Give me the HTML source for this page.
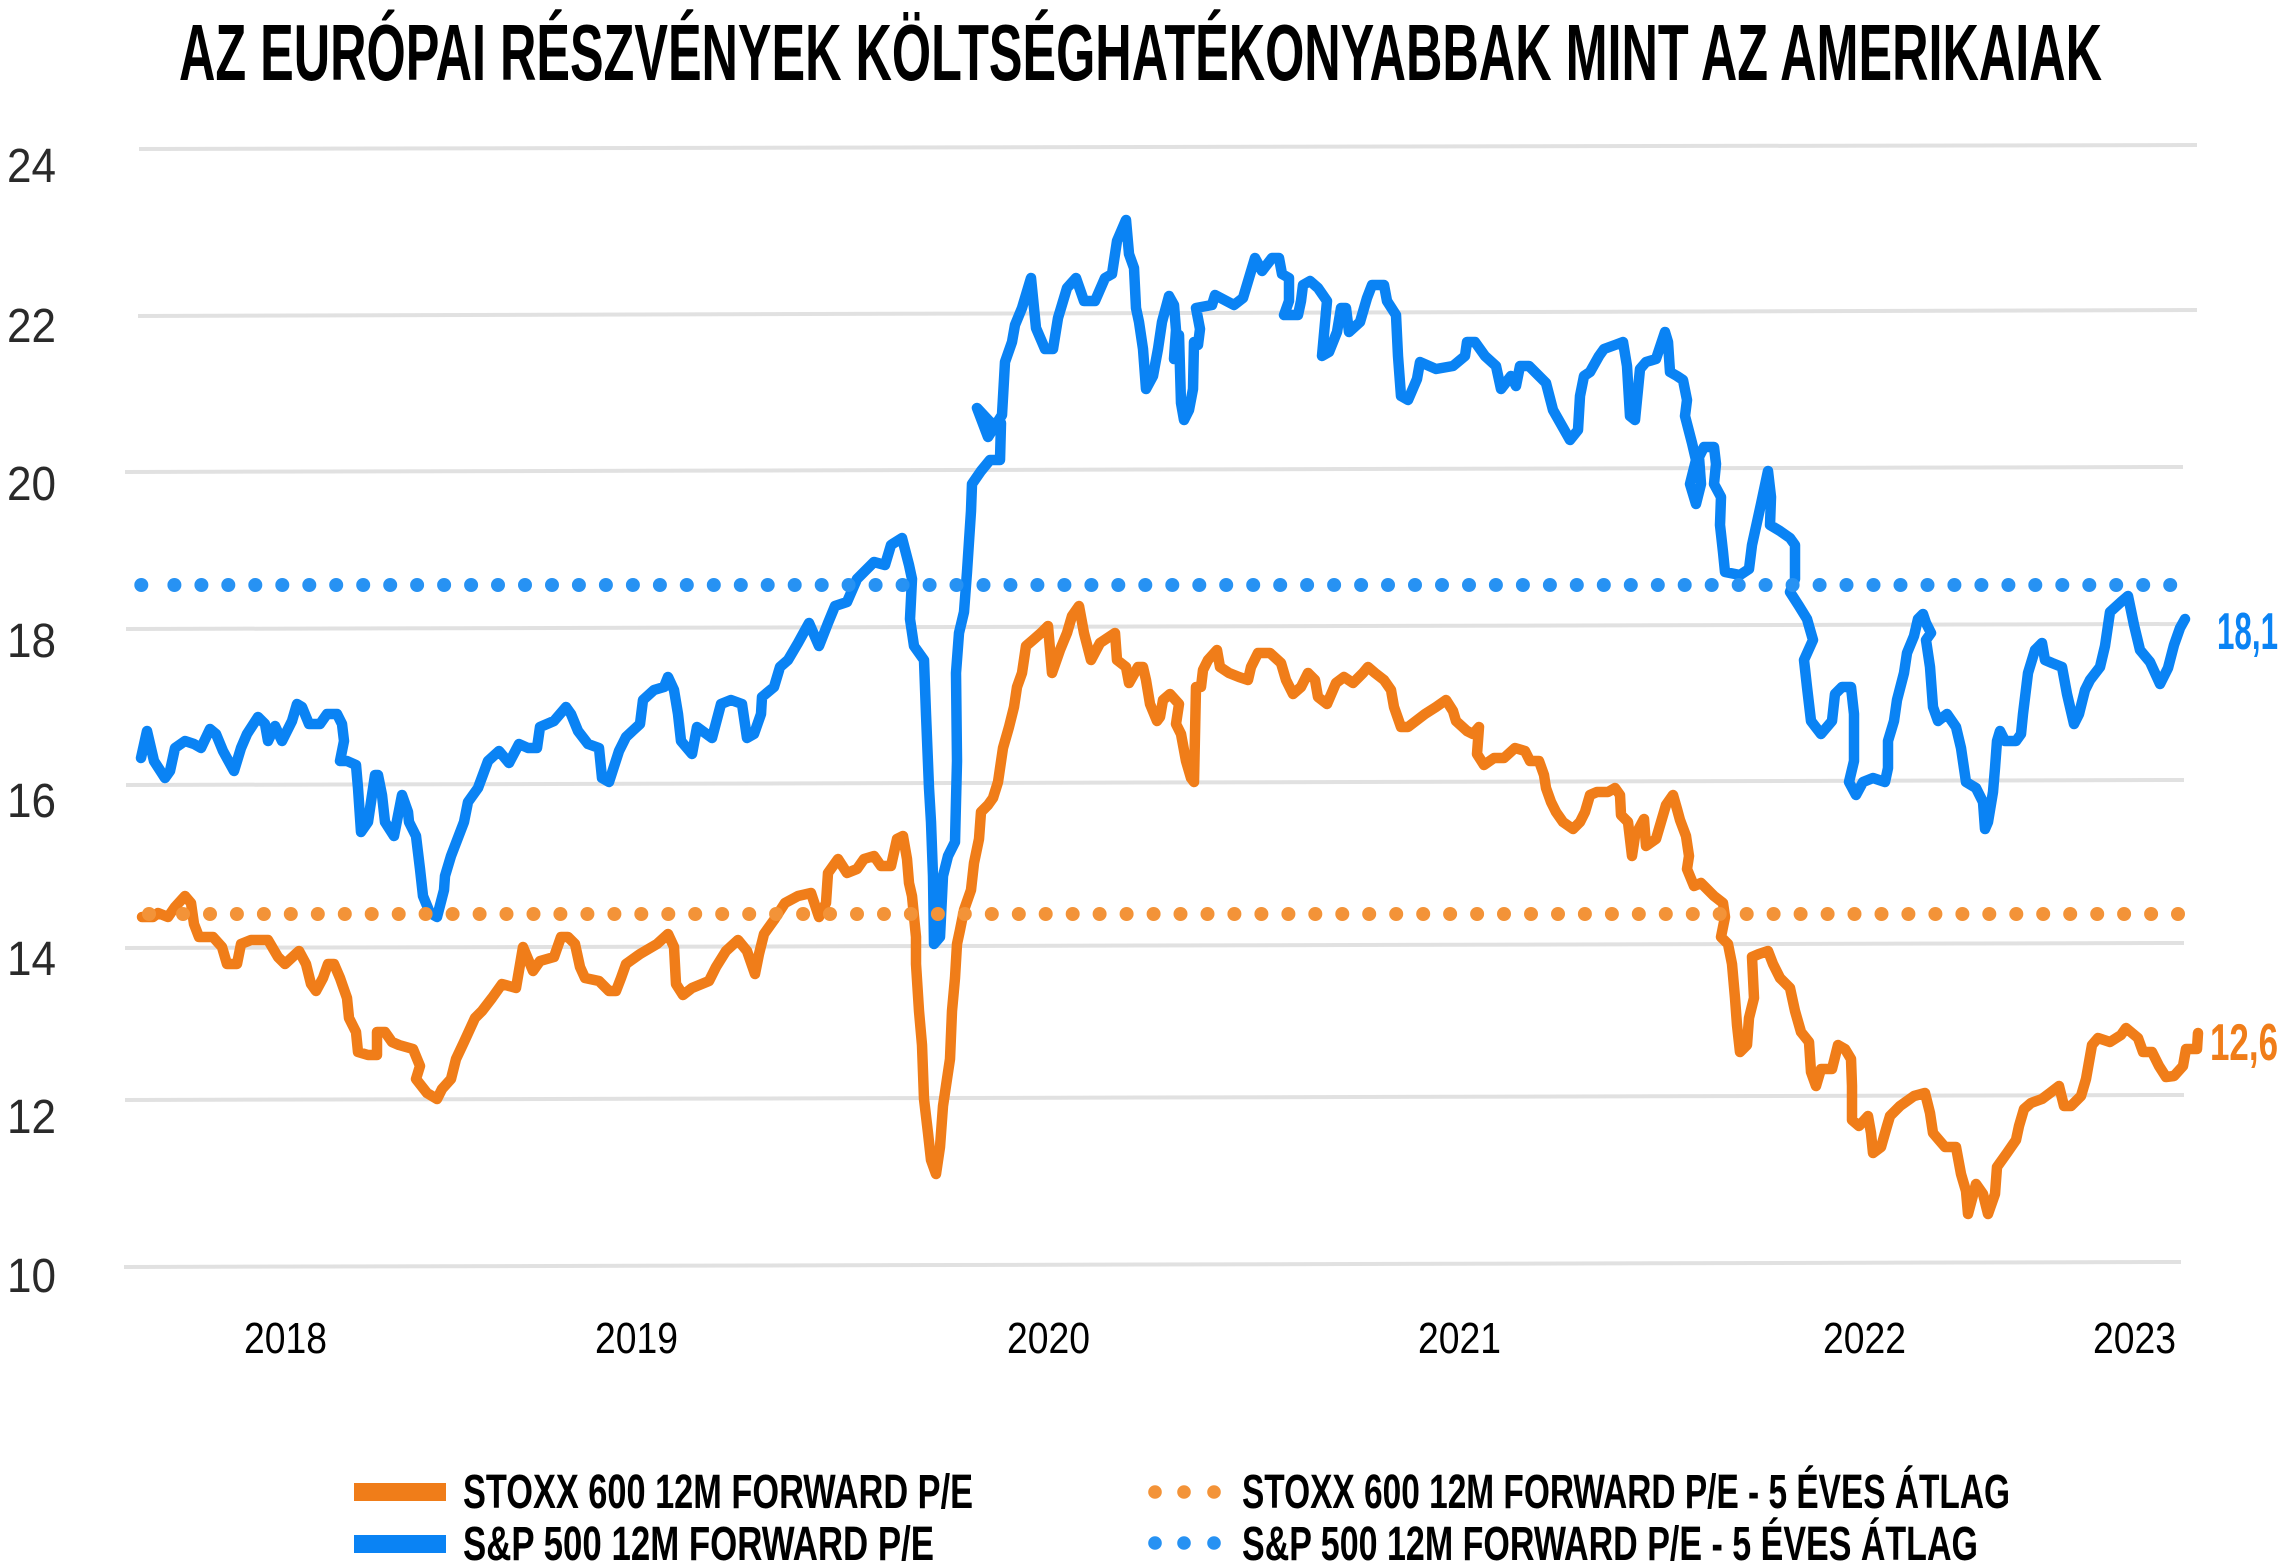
<!DOCTYPE html>
<html><head><meta charset="utf-8"><style>
html,body{margin:0;padding:0;background:#fff;}
svg{display:block;}
</style></head><body>
<svg width="2284" height="1568" viewBox="0 0 2284 1568" xmlns="http://www.w3.org/2000/svg">
<rect width="2284" height="1568" fill="#fff"/>
<text x="179" y="80" font-family="Liberation Sans, Arial, sans-serif" font-weight="bold" font-size="80" fill="#000" textLength="1923" lengthAdjust="spacingAndGlyphs">AZ EURÓPAI RÉSZVÉNYEK KÖLTSÉGHATÉKONYABBAK MINT AZ AMERIKAIAK</text>

<g stroke="#e1e1e1" stroke-width="4" fill="none">
<line x1="139" y1="149" x2="2197" y2="145"/>
<line x1="138" y1="316" x2="2197" y2="310"/>
<line x1="125" y1="472" x2="2183" y2="467"/>
<line x1="126" y1="629" x2="2185" y2="624"/>
<line x1="126" y1="785" x2="2184" y2="780"/>
<line x1="125" y1="948" x2="2184" y2="943"/>
<line x1="125" y1="1100" x2="2184" y2="1095"/>
<line x1="124" y1="1267" x2="2181" y2="1262"/>
</g>

<g font-family="Liberation Sans, Arial, sans-serif" font-size="48" fill="#2a2a2a">
<text x="7" y="182" textLength="49" lengthAdjust="spacingAndGlyphs">24</text>
<text x="7" y="342" textLength="49" lengthAdjust="spacingAndGlyphs">22</text>
<text x="7" y="500" textLength="49" lengthAdjust="spacingAndGlyphs">20</text>
<text x="7" y="657" textLength="49" lengthAdjust="spacingAndGlyphs">18</text>
<text x="7" y="817" textLength="49" lengthAdjust="spacingAndGlyphs">16</text>
<text x="7" y="975" textLength="49" lengthAdjust="spacingAndGlyphs">14</text>
<text x="7" y="1133" textLength="49" lengthAdjust="spacingAndGlyphs">12</text>
<text x="7" y="1292" textLength="49" lengthAdjust="spacingAndGlyphs">10</text>
</g>

<g font-family="Liberation Sans, Arial, sans-serif" font-size="44" fill="#000">
<text x="244" y="1353" textLength="83" lengthAdjust="spacingAndGlyphs">2018</text>
<text x="595" y="1353" textLength="83" lengthAdjust="spacingAndGlyphs">2019</text>
<text x="1007" y="1353" textLength="83" lengthAdjust="spacingAndGlyphs">2020</text>
<text x="1418" y="1353" textLength="83" lengthAdjust="spacingAndGlyphs">2021</text>
<text x="1823" y="1353" textLength="83" lengthAdjust="spacingAndGlyphs">2022</text>
<text x="2093" y="1353" textLength="83" lengthAdjust="spacingAndGlyphs">2023</text>
</g>

<g fill="none" stroke-linejoin="round" stroke-linecap="round" stroke-width="10.5">
<path stroke="#0A83F4" d="M141,758 L147,731 L154,761 L165,778 L170,771 L175,748 L185,741 L194,744 L201,748 L210,729 L216,734 L223,751 L234,771 L241,748 L247,734 L258,717 L265,724 L268,741 L275,726 L282,741 L292,721 L297,704 L302,707 L309,724 L320,724 L327,714 L337,714 L342,724 L344,741 L340,761 L347,761 L356,765 L358,788 L361,832 L368,822 L375,775 L378,775 L382,795 L385,822 L394,836 L402,795 L408,812 L409,822 L416,836 L420,869 L423,896 L430,913 L437,917 L444,890 L445,876 L451,856 L464,822 L468,802 L478,788 L488,761 L499,751 L509,763 L519,744 L528,748 L537,748 L540,727 L554,721 L566,707 L571,714 L578,731 L588,744 L599,748 L602,778 L609,782 L619,751 L626,737 L640,724 L643,700 L654,690 L664,687 L668,677 L674,690 L678,714 L681,741 L692,754 L697,727 L712,738 L721,704 L731,700 L742,704 L747,738 L754,734 L761,714 L762,697 L774,687 L780,667 L788,660 L798,643 L809,623 L819,646 L828,623 L835,606 L847,602 L857,579 L874,562 L885,565 L891,545 L902,538 L909,565 L912,579 L910,619 L914,646 L924,660 L926,714 L929,788 L931,822 L933,876 L934,944 L940,937 L943,876 L948,856 L955,842 L957,761 L956,673 L959,633 L964,612 L967,572 L971,511 L972,484 L981,471 L990,460 L1000,460 L1001,423 L991,423 L977,408 L988,437 L1002,415 L1005,362 L1012,342 L1015,325 L1022,308 L1031,278 L1036,328 L1045,349 L1053,349 L1058,318 L1067,288 L1076,278 L1084,301 L1095,301 L1105,278 L1112,274 L1117,241 L1126,220 L1129,254 L1134,268 L1136,308 L1139,322 L1143,349 L1146,389 L1153,376 L1158,349 L1162,322 L1169,296 L1174,305 L1176,330 L1174,359 L1179,335 L1181,403 L1184,420 L1189,410 L1193,389 L1194,342 L1198,345 L1200,329 L1196,308 L1212,305 L1215,295 L1234,305 L1243,298 L1255,258 L1262,271 L1272,258 L1279,258 L1282,274 L1289,278 L1289,301 L1284,315 L1298,315 L1301,301 L1303,285 L1310,281 L1318,288 L1327,301 L1322,356 L1329,352 L1337,332 L1341,308 L1346,308 L1349,332 L1360,322 L1367,298 L1372,285 L1384,285 L1387,301 L1396,315 L1398,356 L1401,396 L1408,400 L1417,379 L1420,362 L1436,369 L1453,366 L1465,356 L1467,342 L1475,342 L1485,356 L1496,366 L1501,389 L1511,376 L1516,386 L1520,366 L1529,366 L1539,376 L1546,383 L1553,410 L1570,440 L1578,430 L1580,396 L1584,376 L1590,372 L1599,356 L1604,349 L1615,345 L1623,342 L1627,366 L1630,416 L1635,420 L1640,369 L1646,362 L1656,359 L1665,332 L1668,342 L1670,372 L1677,376 L1683,380 L1687,400 L1685,416 L1692,443 L1696,460 L1690,484 L1696,504 L1701,484 L1699,457 L1704,447 L1714,447 L1716,464 L1714,484 L1721,497 L1720,525 L1723,552 L1725,572 L1740,575 L1749,569 L1752,545 L1761,504 L1768,471 L1771,497 L1770,525 L1780,531 L1790,538 L1795,545 L1795,579 L1790,592 L1799,606 L1807,619 L1813,640 L1804,660 L1807,687 L1811,721 L1821,734 L1832,721 L1835,694 L1842,687 L1851,687 L1854,714 L1854,761 L1849,782 L1856,795 L1863,782 L1873,778 L1885,782 L1888,768 L1888,741 L1894,721 L1897,700 L1904,673 L1907,653 L1914,636 L1918,619 L1923,614 L1926,623 L1931,633 L1926,640 L1930,667 L1933,707 L1938,721 L1947,714 L1956,727 L1961,748 L1966,782 L1976,788 L1983,802 L1985,829 L1988,822 L1993,792 L1995,768 L1997,741 L2000,731 L2005,741 L2016,741 L2021,734 L2023,714 L2028,673 L2035,650 L2042,643 L2045,660 L2052,663 L2062,667 L2067,694 L2074,724 L2079,714 L2085,690 L2090,680 L2100,667 L2105,646 L2110,612 L2121,602 L2128,596 L2134,625 L2140,650 L2150,662 L2160,684 L2168,668 L2174,645 L2180,628 L2185,619"/>
<path stroke="#F07D19" d="M142,917 L153,917 L158,913 L168,917 L175,907 L185,896 L191,903 L194,924 L199,937 L213,937 L222,947 L227,964 L237,964 L241,944 L251,940 L268,940 L278,957 L285,964 L299,951 L306,964 L311,984 L316,991 L323,978 L328,964 L334,964 L340,978 L347,998 L349,1018 L356,1032 L358,1052 L368,1055 L377,1055 L377,1032 L385,1032 L392,1042 L399,1045 L413,1049 L420,1066 L416,1079 L427,1093 L437,1099 L442,1089 L451,1079 L456,1059 L464,1042 L475,1018 L482,1011 L492,998 L502,984 L516,988 L523,947 L533,971 L540,961 L554,957 L561,937 L568,937 L575,944 L580,967 L585,978 L599,981 L609,991 L616,991 L621,978 L626,964 L640,954 L657,944 L668,934 L674,947 L676,984 L683,995 L692,988 L709,981 L716,967 L726,951 L738,940 L747,951 L755,974 L759,954 L764,934 L774,920 L785,903 L798,896 L811,893 L819,917 L826,903 L828,873 L838,859 L847,873 L857,869 L864,859 L874,856 L881,866 L891,866 L897,839 L903,836 L907,859 L909,883 L912,896 L916,937 L916,964 L919,1011 L922,1045 L924,1099 L928,1133 L931,1160 L936,1174 L940,1147 L943,1106 L947,1079 L950,1059 L952,1011 L955,978 L957,944 L960,930 L964,910 L971,890 L974,863 L979,839 L981,812 L988,805 L993,798 L998,782 L1003,748 L1009,727 L1014,707 L1017,687 L1022,673 L1026,646 L1033,640 L1041,633 L1048,626 L1052,673 L1060,650 L1067,633 L1072,616 L1079,606 L1084,633 L1091,660 L1100,643 L1115,633 L1117,660 L1126,667 L1129,683 L1138,667 L1143,667 L1146,680 L1150,704 L1157,721 L1160,717 L1163,700 L1170,694 L1179,704 L1176,724 L1181,734 L1186,761 L1191,778 L1194,782 L1196,687 L1201,687 L1203,670 L1208,660 L1217,650 L1220,667 L1229,673 L1239,677 L1248,680 L1251,667 L1258,653 L1270,653 L1281,663 L1286,680 L1293,694 L1301,687 L1308,673 L1315,680 L1318,697 L1327,704 L1336,683 L1344,677 L1353,683 L1363,673 L1368,667 L1375,673 L1384,680 L1391,690 L1394,707 L1401,727 L1408,727 L1425,714 L1436,707 L1446,700 L1453,711 L1456,721 L1467,731 L1473,734 L1479,727 L1477,754 L1484,765 L1494,758 L1504,758 L1515,748 L1525,751 L1530,761 L1539,761 L1544,775 L1546,788 L1551,802 L1556,812 L1563,822 L1573,829 L1580,822 L1585,812 L1590,795 L1597,792 L1608,792 L1615,788 L1620,795 L1621,815 L1628,822 L1632,856 L1635,836 L1644,819 L1646,846 L1656,839 L1661,822 L1666,805 L1673,795 L1677,809 L1680,820 L1686,836 L1689,856 L1687,869 L1694,886 L1701,883 L1708,890 L1714,896 L1723,903 L1725,917 L1721,937 L1728,944 L1732,964 L1735,998 L1737,1025 L1740,1052 L1747,1045 L1749,1018 L1754,998 L1752,957 L1759,954 L1768,951 L1773,964 L1780,978 L1790,988 L1795,1011 L1801,1032 L1809,1042 L1811,1072 L1816,1086 L1821,1069 L1832,1069 L1838,1045 L1845,1049 L1851,1059 L1852,1086 L1852,1120 L1859,1126 L1868,1116 L1871,1133 L1873,1153 L1881,1147 L1887,1126 L1890,1116 L1900,1106 L1914,1096 L1925,1093 L1930,1113 L1933,1133 L1945,1147 L1956,1147 L1961,1174 L1966,1191 L1968,1214 L1976,1184 L1983,1194 L1988,1214 L1995,1194 L1997,1167 L2007,1153 L2016,1140 L2019,1126 L2024,1109 L2031,1103 L2042,1099 L2050,1093 L2059,1086 L2064,1106 L2071,1106 L2081,1096 L2086,1079 L2092,1045 L2098,1038 L2110,1042 L2121,1035 L2126,1028 L2138,1038 L2143,1052 L2152,1052 L2159,1066 L2166,1077 L2174,1076 L2183,1066 L2186,1049 L2197,1049 L2198,1033"/>
</g>

<g id="bdots" fill="#2792F3"></g>
<g id="odots" fill="#F39338"></g>

<rect x="354" y="1483" width="92" height="18" fill="#F07D19"/>
<rect x="354" y="1535" width="92" height="18" fill="#0A83F4"/>
<g fill="#F39338"><circle cx="1155" cy="1492" r="6.8"/><circle cx="1184" cy="1492" r="6.8"/><circle cx="1214" cy="1492" r="6.8"/></g>
<g fill="#2792F3"><circle cx="1155" cy="1543" r="6.8"/><circle cx="1184" cy="1543" r="6.8"/><circle cx="1214" cy="1543" r="6.8"/></g>
<g font-family="Liberation Sans, Arial, sans-serif" font-weight="bold" font-size="48" fill="#000">
<text x="463" y="1508" textLength="510" lengthAdjust="spacingAndGlyphs">STOXX 600 12M FORWARD P/E</text>
<text x="463" y="1560" textLength="471" lengthAdjust="spacingAndGlyphs">S&amp;P 500 12M FORWARD P/E</text>
<text x="1242" y="1508" textLength="768" lengthAdjust="spacingAndGlyphs">STOXX 600 12M FORWARD P/E - 5 ÉVES ÁTLAG</text>
<text x="1242" y="1560" textLength="736" lengthAdjust="spacingAndGlyphs">S&amp;P 500 12M FORWARD P/E - 5 ÉVES ÁTLAG</text>
</g>

<text x="2217" y="649" font-family="Liberation Sans, Arial, sans-serif" font-weight="bold" font-size="52" fill="#0A83F4" textLength="61" lengthAdjust="spacingAndGlyphs">18,1</text>
<text x="2210" y="1060" font-family="Liberation Sans, Arial, sans-serif" font-weight="bold" font-size="52" fill="#F07D19" textLength="68" lengthAdjust="spacingAndGlyphs">12,6</text>
</svg>
<script>
(function(){
  var ns="http://www.w3.org/2000/svg";
  var b=document.getElementById("bdots");
  function dot(g,x,y){var c=document.createElementNS(ns,"circle");c.setAttribute("cx",x.toFixed(1));c.setAttribute("cy",y);c.setAttribute("r","7");g.appendChild(c);}
  dot(b,141.3,585);
  for(var k=0;k<=74;k++){dot(b,174.4+k*26.97,585);}
  var o=document.getElementById("odots");
  dot(o,149,914);
  for(var k=0;k<=74;k++){dot(o,183+k*26.96,914);}
})();
</script>
</body></html>
